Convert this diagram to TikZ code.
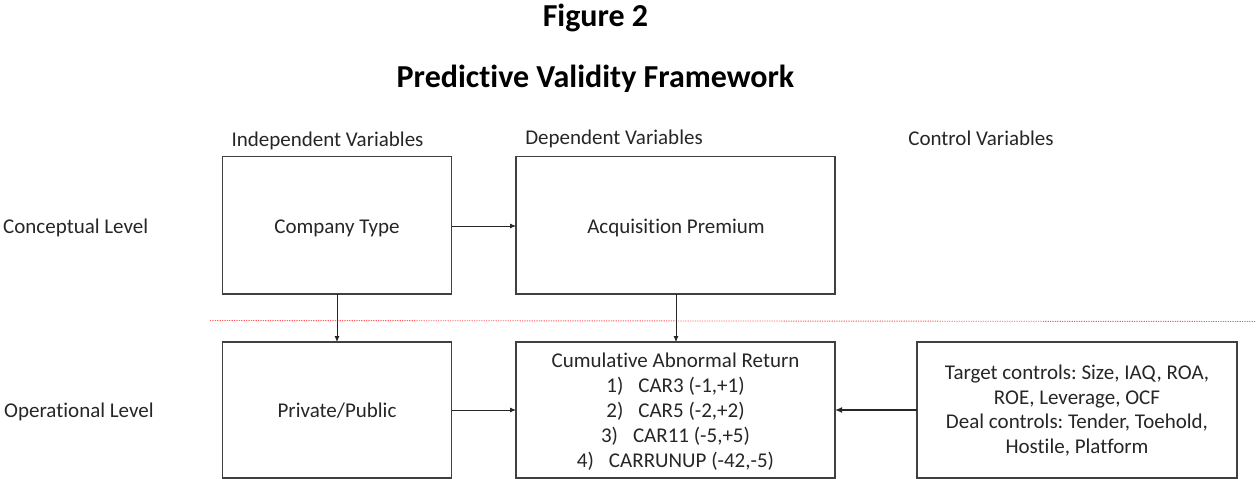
\documentclass[tikz,border=0pt]{standalone}
\usepackage{fontspec}
\setmainfont{Carlito}[Ligatures={NoCommon}]
\usetikzlibrary{arrows.meta}
\frenchspacing
\begin{document}
\begin{tikzpicture}[x=1pt,y=-1pt,
  every node/.style={font=\fontsize{21}{25}\selectfont, text=black!85, inner sep=0pt},
  heading/.style={font=\fontsize{32}{36}\selectfont\bfseries, text=black, anchor=base},
  lbl/.style={anchor=base},
  box/.style={draw=black!75, line width=1.3pt},
  conn/.style={draw=black!85, line width=0.8pt, -{Latex[length=6pt,width=5pt]}},
  thick conn/.style={draw=black!85, line width=1.6pt, -{Latex[length=7pt,width=6pt]}},
  level/.style={red!65, line width=0.9pt, dash pattern=on 1.2pt off 1.2pt}]
\useasboundingbox (0,0) rectangle (1256,479);

% titles
\node[heading] (fig) at (595.5,27) {Figure 2};
\node[heading] (ttl) at (595.5,87) {Predictive Validity Framework};

% column headings
\node[lbl] (hind) at (327.5,146) {Independent Variables};
\node[lbl] (hdep) at (614,144) {Dependent Variables};
\node[lbl] (hctl) at (981,145) {Control Variables};

% row headings
\node[lbl, anchor=base west] (rcon) at (3,233) {Conceptual Level};
\node[lbl, anchor=base west] (rop) at (4,417) {Operational Level};

% conceptual boxes
\draw[box] (222.5,156.5) rectangle (451.5,294);
\node[lbl] (ct) at (337,233) {Company Type};
\draw[box] (516,156.5) rectangle (835,294);
\node[lbl] (ap) at (676,233) {Acquisition Premium};

% operational boxes (multi-line nodes sit on the baseline of their last line)
\draw[box] (222.5,342) rectangle (451.5,478);
\node[lbl] (pp) at (337,417) {Private/Public};
\draw[box] (516,342) rectangle (835,478);
\node[lbl, align=center] (car) at (675.5,467) {Cumulative Abnormal Return\\
  1)\hspace{15pt}CAR3 (-1,+1)\\
  2)\hspace{15pt}CAR5 (-2,+2)\\
  3)\hspace{15pt}CAR11 (-5,+5)\\
  4)\hspace{15pt}CARRUNUP (-42,-5)};
\draw[box] (917,342) rectangle (1237,478);
\node[lbl, align=center, font=\fontsize{21}{24.5}\selectfont] (ctl) at (1077,453) {Target controls: Size, IAQ, ROA,\\
  ROE, Leverage, OCF\\
  Deal controls: Tender, Toehold,\\
  Hostile, Platform};

% connector end points on the box edges
\coordinate (ctR) at (451.5,226);
\coordinate (ctB) at (337,294);
\coordinate (apL) at (516,226);
\coordinate (apB) at (676,294);
\coordinate (ppT) at (337,342);
\coordinate (ppR) at (451.5,410);
\coordinate (carT) at (676,342);
\coordinate (carL) at (516,410);
\coordinate (carR) at (835,410);
\coordinate (ctlL) at (917,410);

% level separator
\coordinate (sepA) at (210,320.5);
\coordinate (sepB) at (1256,321.5);
\draw[level] (sepA) -- (sepB);

% connectors
\draw[conn] (ctR) -- (apL);
\draw[conn] (ctB) -- (ppT);
\draw[conn] (apB) -- (carT);
\draw[conn] (ppR) -- (carL);
\draw[thick conn] (ctlL) -- (carR);
\end{tikzpicture}
\end{document}
